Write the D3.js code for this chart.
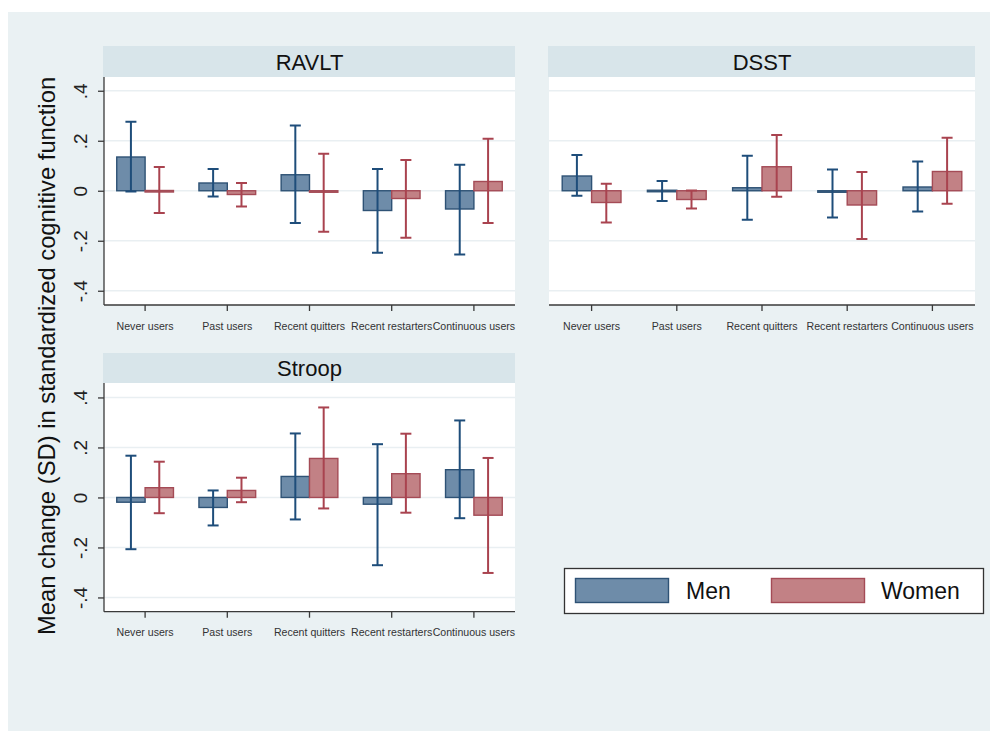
<!DOCTYPE html>
<html>
<head>
<meta charset="utf-8">
<script src="https://cdn.jsdelivr.net/npm/d3@7/dist/d3.min.js"></script>
<style>
  html, body { margin: 0; padding: 0; background: #ffffff; }
  svg { display: block; font-family: "Liberation Sans", Arial, Helvetica, sans-serif; }
</style>
</head>
<body>
<svg id="chart" width="997" height="731"></svg>
<script>
// Smoking-status groups on the x axis
const categories = ["Never users", "Past users", "Recent quitters", "Recent restarters", "Continuous users"];
const series = ["Men", "Women"];
const yTicks = [-0.4, -0.2, 0, 0.2, 0.4];
const yTickLabels = ["-.4", "-.2", "0", ".2", ".4"];

// RAVLT: mean change and 95% CI bounds
const ravltMen      = [0.135, 0.031, 0.064, -0.079, -0.073];
const ravltMenLow   = [-0.003, -0.023, -0.129, -0.248, -0.255];
const ravltMenHigh  = [0.276, 0.087, 0.261, 0.087, 0.104];
const ravltWomen     = [0.001, -0.015, -0.003, -0.031, 0.037];
const ravltWomenLow  = [-0.089, -0.063, -0.164, -0.188, -0.129];
const ravltWomenHigh = [0.095, 0.031, 0.148, 0.123, 0.208];

// DSST
const dsstMen      = [0.059, 0.002, 0.012, -0.006, 0.015];
const dsstMenLow   = [-0.020, -0.041, -0.116, -0.107, -0.083];
const dsstMenHigh  = [0.143, 0.039, 0.140, 0.085, 0.117];
const dsstWomen     = [-0.047, -0.035, 0.096, -0.057, 0.077];
const dsstWomenLow  = [-0.127, -0.071, -0.024, -0.193, -0.052];
const dsstWomenHigh = [0.028, 0.001, 0.223, 0.075, 0.212];

// Stroop
const stroopMen      = [-0.019, -0.040, 0.084, -0.027, 0.111];
const stroopMenLow   = [-0.207, -0.112, -0.088, -0.271, -0.083];
const stroopMenHigh  = [0.167, 0.028, 0.256, 0.213, 0.308];
const stroopWomen     = [0.039, 0.028, 0.156, 0.095, -0.071];
const stroopWomenLow  = [-0.063, -0.019, -0.044, -0.061, -0.302];
const stroopWomenHigh = [0.143, 0.079, 0.360, 0.255, 0.158];

const colors = {
  Men:   { fill: "#6e8ca9", stroke: "#2e5275", err: "#1e4d7a" },
  Women: { fill: "#c28185", stroke: "#a44b56", err: "#a9434f" }
};

function rows(mean, lo, hi) {
  return mean.map((m, i) => ({ cat: categories[i], mean: m, lo: lo[i], hi: hi[i] }));
}

const panels = [
  { title: "RAVLT", left: 104, right: 515, top: 46, stripH: 31, axisY: 305, yAxis: true,
    data: { Men: rows(ravltMen, ravltMenLow, ravltMenHigh), Women: rows(ravltWomen, ravltWomenLow, ravltWomenHigh) } },
  { title: "DSST", left: 549, right: 975, top: 46, stripH: 31, axisY: 305, yAxis: false,
    data: { Men: rows(dsstMen, dsstMenLow, dsstMenHigh), Women: rows(dsstWomen, dsstWomenLow, dsstWomenHigh) } },
  { title: "Stroop", left: 104, right: 515, top: 353, stripH: 30, axisY: 611.7, yAxis: true,
    data: { Men: rows(stroopMen, stroopMenLow, stroopMenHigh), Women: rows(stroopWomen, stroopWomenLow, stroopWomenHigh) } }
];

const svg = d3.select("#chart");

// graph region background
svg.append("rect").attr("x", 8).attr("y", 12).attr("width", 982).attr("height", 719)
  .attr("fill", "#eaf1f3");

panels.forEach(p => {
  const g = svg.append("g");
  const plotTop = p.top + p.stripH;

  // subplot title strip
  g.append("rect").attr("x", p.left - 1).attr("y", p.top)
    .attr("width", p.right - p.left + 1).attr("height", p.stripH).attr("fill", "#d8e5ea");
  g.append("text").attr("x", (p.left + p.right) / 2).attr("y", p.top + p.stripH / 2 + 8)
    .attr("text-anchor", "middle").attr("font-size", 22).attr("fill", "#111").text(p.title);

  // plot area
  g.append("rect").attr("x", p.left).attr("y", plotTop)
    .attr("width", p.right - p.left).attr("height", p.axisY - plotTop).attr("fill", "#ffffff");

  const x = d3.scaleBand().domain(categories).range([p.left, p.right]).padding(0);
  const y = d3.scaleLinear().domain([-0.457, 0.457]).range([p.axisY, p.axisY - 0.914 * 250]);
  const barW = x.bandwidth() * 0.345;

  // horizontal grid
  g.selectAll(".grid").data(yTicks).join("line")
    .attr("x1", p.left).attr("x2", p.right)
    .attr("y1", d => y(d)).attr("y2", d => y(d))
    .attr("stroke", "#e9eff2").attr("stroke-width", 1.6);

  // bars and confidence intervals for each sex
  series.forEach((s, si) => {
    const c = colors[s];
    const offset = d => si === 0 ? x(d.cat) + x.bandwidth() / 2 - barW : x(d.cat) + x.bandwidth() / 2;
    const center = d => offset(d) + barW / 2;
    const data = p.data[s];

    g.selectAll(".bar-" + s).data(data).join("rect")
      .attr("x", offset)
      .attr("y", d => y(Math.max(0, d.mean)))
      .attr("width", barW)
      .attr("height", d => Math.max(1.5, Math.abs(y(d.mean) - y(0))))
      .attr("fill", c.fill).attr("stroke", c.stroke).attr("stroke-width", 1.4);

    const eg = g.selectAll(".err-" + s).data(data).join("g")
      .attr("stroke", c.err).attr("stroke-width", 2).attr("fill", "none");
    eg.append("line").attr("x1", center).attr("x2", center)
      .attr("y1", d => y(d.lo)).attr("y2", d => y(d.hi));
    eg.append("line").attr("x1", d => center(d) - 5.5).attr("x2", d => center(d) + 5.5)
      .attr("y1", d => y(d.hi)).attr("y2", d => y(d.hi));
    eg.append("line").attr("x1", d => center(d) - 5.5).attr("x2", d => center(d) + 5.5)
      .attr("y1", d => y(d.lo)).attr("y2", d => y(d.lo));
  });

  // x axis
  const xAxis = g.append("g").attr("transform", `translate(0,${p.axisY})`)
    .call(d3.axisBottom(x).tickSize(6).tickPadding(11));
  xAxis.select(".domain").attr("stroke", "#3a3a3a").attr("stroke-width", 1.3)
    .attr("d", `M${p.left},0H${p.right}`);
  xAxis.selectAll(".tick line").attr("stroke", "#3a3a3a").attr("stroke-width", 1.3);
  xAxis.selectAll(".tick text").attr("font-size", 10.6).attr("fill", "#333")
    .attr("font-family", "\"Liberation Sans\", Arial, sans-serif");

  // y axis
  if (p.yAxis) {
    const yAxis = g.append("g").attr("transform", `translate(${p.left},0)`)
      .call(d3.axisLeft(y).tickValues(yTicks).tickSize(6).tickPadding(4)
        .tickFormat((d, i) => yTickLabels[i]));
    yAxis.select(".domain").attr("stroke", "#3a3a3a").attr("stroke-width", 1.3)
      .attr("d", `M0,${plotTop}V${p.axisY}`);
    yAxis.selectAll(".tick line").attr("stroke", "#3a3a3a").attr("stroke-width", 1.3);
    yAxis.selectAll(".tick text")
      .attr("font-size", 19).attr("fill", "#222")
      .attr("font-family", "\"Liberation Sans\", Arial, sans-serif")
      .attr("text-anchor", "middle").attr("dy", null).attr("x", null)
      .attr("transform", "translate(-22,0) rotate(-90)")
      .attr("y", 0).attr("dominant-baseline", "middle");
  }
});

// shared y title
svg.append("text")
  .attr("transform", "translate(55,356) rotate(-90)")
  .attr("text-anchor", "middle").attr("font-size", 23.8).attr("fill", "#111")
  .text("Mean change (SD) in standardized cognitive function");

// legend
const legend = svg.append("g");
legend.append("rect").attr("x", 564.5).attr("y", 568.5).attr("width", 419).attr("height", 45)
  .attr("fill", "#ffffff").attr("stroke", "#333").attr("stroke-width", 1.3);
const legItems = [{ s: "Men", x: 575.5, tx: 686 }, { s: "Women", x: 771.5, tx: 881 }];
legItems.forEach(it => {
  legend.append("rect").attr("x", it.x).attr("y", 578.5).attr("width", 93).attr("height", 24)
    .attr("fill", colors[it.s].fill).attr("stroke", colors[it.s].stroke).attr("stroke-width", 1.4);
  legend.append("text").attr("x", it.tx).attr("y", 599).attr("font-size", 23)
    .attr("fill", "#111").text(it.s);
});
</script>
</body>
</html>
